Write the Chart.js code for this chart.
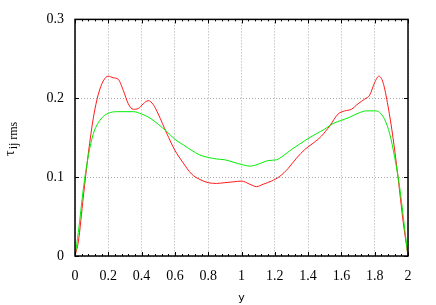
<!DOCTYPE html>
<html>
<head>
<meta charset="utf-8">
<script src="https://cdn.jsdelivr.net/npm/chart.js@4"></script>
<style>
  html, body { margin: 0; padding: 0; background: #fff; }
  #wrap { width: 436px; height: 305px; }
</style>
</head>
<body>
<div id="wrap"><canvas id="myChart" width="436" height="305"></canvas></div>
<script>
// data
const redX = [0, 0.02, 0.05, 0.08, 0.11, 0.14, 0.17, 0.20, 0.23, 0.26, 0.29, 0.32, 0.35, 0.38, 0.41, 0.44, 0.47, 0.50, 0.55, 0.60, 0.65, 0.70, 0.75, 0.80, 0.85, 0.90, 0.95, 1.00, 1.05, 1.09, 1.13, 1.18, 1.23, 1.28, 1.33, 1.38, 1.43, 1.48, 1.53, 1.58, 1.62, 1.66, 1.70, 1.74, 1.77, 1.80, 1.825, 1.85, 1.88, 1.91, 1.94, 1.97, 2.0];
const redY = [0, 0.018, 0.075, 0.13, 0.175, 0.205, 0.222, 0.228, 0.226, 0.224, 0.21, 0.193, 0.186, 0.187, 0.193, 0.197, 0.192, 0.180, 0.156, 0.134, 0.118, 0.104, 0.097, 0.093, 0.092, 0.093, 0.094, 0.095, 0.091, 0.088, 0.091, 0.095, 0.101, 0.111, 0.124, 0.135, 0.143, 0.152, 0.165, 0.180, 0.184, 0.186, 0.193, 0.199, 0.204, 0.220, 0.228, 0.220, 0.190, 0.150, 0.100, 0.045, 0];

const greenX = [0, 0.02, 0.05, 0.08, 0.11, 0.14, 0.17, 0.20, 0.25, 0.30, 0.35, 0.40, 0.45, 0.50, 0.55, 0.60, 0.65, 0.70, 0.75, 0.80, 0.85, 0.90, 0.95, 1.00, 1.05, 1.08, 1.12, 1.16, 1.21, 1.25, 1.30, 1.35, 1.40, 1.45, 1.50, 1.55, 1.60, 1.65, 1.70, 1.75, 1.80, 1.83, 1.86, 1.89, 1.92, 1.95, 1.98, 2.0];
const greenY = [0, 0.03, 0.085, 0.127, 0.155, 0.169, 0.177, 0.181, 0.183, 0.183, 0.183, 0.180, 0.175, 0.167, 0.158, 0.148, 0.141, 0.134, 0.128, 0.125, 0.123, 0.122, 0.119, 0.116, 0.114, 0.115, 0.118, 0.121, 0.122, 0.127, 0.135, 0.142, 0.149, 0.155, 0.161, 0.168, 0.172, 0.176, 0.181, 0.184, 0.184, 0.182, 0.173, 0.155, 0.125, 0.087, 0.035, 0];

const xTicks = [0, 0.2, 0.4, 0.6, 0.8, 1, 1.2, 1.4, 1.6, 1.8, 2];
const xTickLabels = ['0', '0.2', '0.4', '0.6', '0.8', '1', '1.2', '1.4', '1.6', '1.8', '2'];
const yTicks = [0, 0.1, 0.2, 0.3];
const yTickLabels = ['0', '0.1', '0.2', '0.3'];
const xMinorStep = 0.04;

function pts(xs, ys) {
    return xs.map((x, i) => ({ x: x, y: ys[i] }));
}

// frame + inward ticks, gnuplot style
const framePlugin = {
    id: 'frame',
    afterDraw(chart) {
        const c = chart.ctx;
        const a = chart.chartArea;
        const xs = chart.scales.x, ys = chart.scales.y;
        c.save();
        c.strokeStyle = '#000';
        c.lineWidth = 1;
        c.beginPath();
        // minor ticks on x
        for (let v = xMinorStep; v < 2; v += xMinorStep) {
            const px = Math.round(xs.getPixelForValue(v)) + 0.5;
            c.moveTo(px, a.bottom); c.lineTo(px, a.bottom - 2);
            c.moveTo(px, a.top); c.lineTo(px, a.top + 2);
        }
        xTicks.forEach(v => {
            const px = Math.round(xs.getPixelForValue(v)) + 0.5;
            c.moveTo(px, a.bottom); c.lineTo(px, a.bottom - 4);
            c.moveTo(px, a.top); c.lineTo(px, a.top + 4);
        });
        yTicks.forEach(v => {
            const py = Math.round(ys.getPixelForValue(v)) + 0.5;
            c.moveTo(a.left, py); c.lineTo(a.left + 4, py);
            c.moveTo(a.right, py); c.lineTo(a.right - 4, py);
        });
        c.stroke();
        c.lineWidth = 1.5;
        c.strokeRect(a.left, a.top, a.right - a.left, a.bottom - a.top);

        // y axis label with subscript
        c.fillStyle = '#000';
        c.translate(14, 156);
        c.rotate(-Math.PI / 2);
        c.textBaseline = 'alphabetic';
        c.font = '14px "Liberation Serif"';
        c.fillText('τ', 0, 0);
        const w = c.measureText('τ').width;
        c.font = '12px "Liberation Serif"';
        c.fillText('ij rms', w + 1, 3);
        c.restore();
    }
};

const ctx = document.getElementById('myChart').getContext('2d');
const chart = new Chart(ctx, {
    type: 'line',
    data: {
        datasets: [{
            data: pts(greenX, greenY),
            borderColor: '#00ee00',
            borderWidth: 1,
            pointRadius: 0,
            fill: false,
            cubicInterpolationMode: 'monotone'
        }, {
            data: pts(redX, redY),
            borderColor: '#ff1a1a',
            borderWidth: 1,
            pointRadius: 0,
            fill: false,
            cubicInterpolationMode: 'monotone'
        }]
    },
    options: {
        responsive: false,
        animation: false,
        layout: { padding: { left: 0, top: 18, right: 28, bottom: 0 } },
        plugins: { legend: { display: false }, tooltip: { enabled: false } },
        scales: {
            x: {
                type: 'linear',
                min: 0, max: 2,
                afterBuildTicks: s => { s.ticks = xTicks.map(v => ({ value: v })); },
                afterFit: s => { s.height = 49; },
                grid: { color: '#aaaaaa', tickLength: 0, drawTicks: false },
                border: { display: false, dash: [1, 2] },
                ticks: {
                    color: '#000',
                    padding: 12,
                    maxRotation: 0,
                    callback: (v, i) => xTickLabels[i],
                    font: { family: '"Liberation Serif"', size: 14 }
                },
                title: {
                    display: true,
                    text: 'y',
                    color: '#000',
                    padding: { top: 4, bottom: 0 },
                    font: { family: '"DejaVu Sans"', size: 11 }
                }
            },
            y: {
                min: 0, max: 0.3,
                afterBuildTicks: s => { s.ticks = yTicks.map(v => ({ value: v })); },
                afterFit: s => { s.width = 75; },
                grid: { color: '#aaaaaa', drawTicks: false },
                border: { display: false, dash: [1, 2] },
                ticks: {
                    color: '#000',
                    padding: 11,
                    callback: (v, i) => yTickLabels[i],
                    font: { family: '"Liberation Serif"', size: 14 }
                }
            }
        }
    },
    plugins: [framePlugin]
});
</script>
</body>
</html>
